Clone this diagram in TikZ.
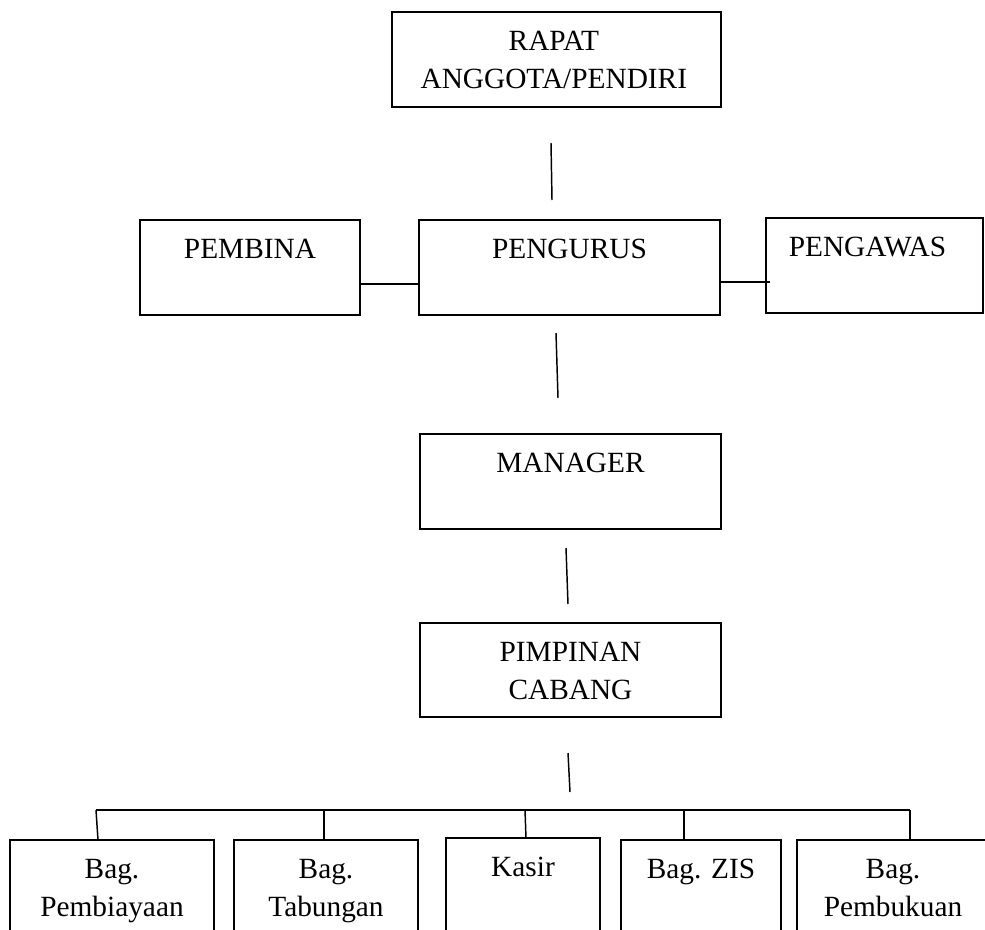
\documentclass[tikz,border=0pt]{standalone}
\usepackage{fontspec}
\setmainfont{Liberation Serif}
\usetikzlibrary{positioning}

\tikzset{
  box/.style={draw, line width=1.3pt, inner sep=0pt, outer sep=0pt, minimum height=71.25pt},
  lbl/.style={inner sep=0pt, align=center, font=\fontsize{22pt}{28.5pt}\selectfont},
  link/.style={line width=1.1pt}
}

\begin{document}
\begin{tikzpicture}[x=0.75pt,y=0.75pt,yscale=-1,xscale=1]
\useasboundingbox (0,0) rectangle (985,929);

%Shape: Rectangles
\node [box, minimum width=246.75pt] (rapat) at (556.5,59.5) {};
\node [box, minimum width=165pt] (pembina) at (250,267.5) {};
\node [box, minimum width=225.75pt] (pengurus) at (569.5,267.5) {};
\node [box, minimum width=162.75pt] (pengawas) at (874.5,265.5) {};
\node [box, minimum width=225.75pt] (manager) at (570.5,481.5) {};
\node [box, minimum width=225.75pt, minimum height=70.5pt] (pimpinan) at (570.5,670) {};
\node [box, minimum width=153pt] (pembiayaan) at (112,887.5) {};
\node [box, minimum width=138pt] (tabungan) at (326,887.5) {};
\node [box, minimum width=115.5pt] (kasir) at (523,885.5) {};
\node [box, minimum width=120pt] (zis) at (701,887.5) {};
\node [box, minimum width=144pt] (pembukuan) at (893,887.5) {};

% Text Node
\node [lbl, below=14pt of rapat.north, xshift=-2pt] (rapattxt) {RAPAT\\ANGGOTA/PENDIRI};
\node [lbl, below=14pt of pembina.north] (pembinatxt) {PEMBINA};
\node [lbl, below=14pt of pengurus.north] (pengurustxt) {PENGURUS};
\node [lbl, below=14pt of pengawas.north, xshift=-5.25pt] (pengawastxt) {PENGAWAS};
\node [lbl, below=14pt of manager.north] (managertxt) {MANAGER};
\node [lbl, below=14pt of pimpinan.north] (pimpinantxt) {PIMPINAN\\CABANG};
\node [lbl, below=14pt of pembiayaan.north] (pembiayaantxt) {Bag.\\Pembiayaan};
\node [lbl, below=14pt of tabungan.north] (tabungantxt) {Bag.\\Tabungan};
\node [lbl, below=14pt of kasir.north] (kasirtxt) {Kasir};
\node [lbl, below=14pt of zis.north] (zistxt) {Bag. ZIS};
\node [lbl, below=14pt of pembukuan.north] (pembukuantxt) {Bag.\\Pembukuan};

%Straight Lines
\coordinate (s1a) at (551,143);
\coordinate (s1b) at (552,200);
\coordinate (s2a) at (556,333);
\coordinate (s2b) at (558,398);
\coordinate (s3a) at (566,548);
\coordinate (s3b) at (568,604);
\coordinate (s4a) at (568,753);
\coordinate (s4b) at (570,792);
\draw [link] (s1a) -- (s1b);
\draw [link] (s2a) -- (s2b);
\draw [link] (s3a) -- (s3b);
\draw [link] (s4a) -- (s4b);

\draw [link] ([yshift=12.4pt]pembina.east) -- ([yshift=12.4pt]pengurus.west);
\draw [link] ([yshift=10.9pt]pengurus.east) -- ([xshift=3pt,yshift=12.4pt]pengawas.west);

%Bus to the sections
\coordinate (bus1) at (96,810);
\coordinate (bus2) at (324,810);
\coordinate (bus3) at (525,810);
\coordinate (bus4) at (684,810);
\coordinate (bus5) at (910,810);
\draw [link] (bus1) -- (bus5);
\draw [link] (bus1) -- ([xshift=-10.5pt]pembiayaan.north);
\draw [link] (bus2) -- (bus2 |- tabungan.north);
\draw [link] (bus3) -- ([xshift=2.25pt]kasir.north);
\draw [link] (bus4) -- (bus4 |- zis.north);
\draw [link] (bus5) -- (bus5 |- pembukuan.north);

\end{tikzpicture}
\end{document}
